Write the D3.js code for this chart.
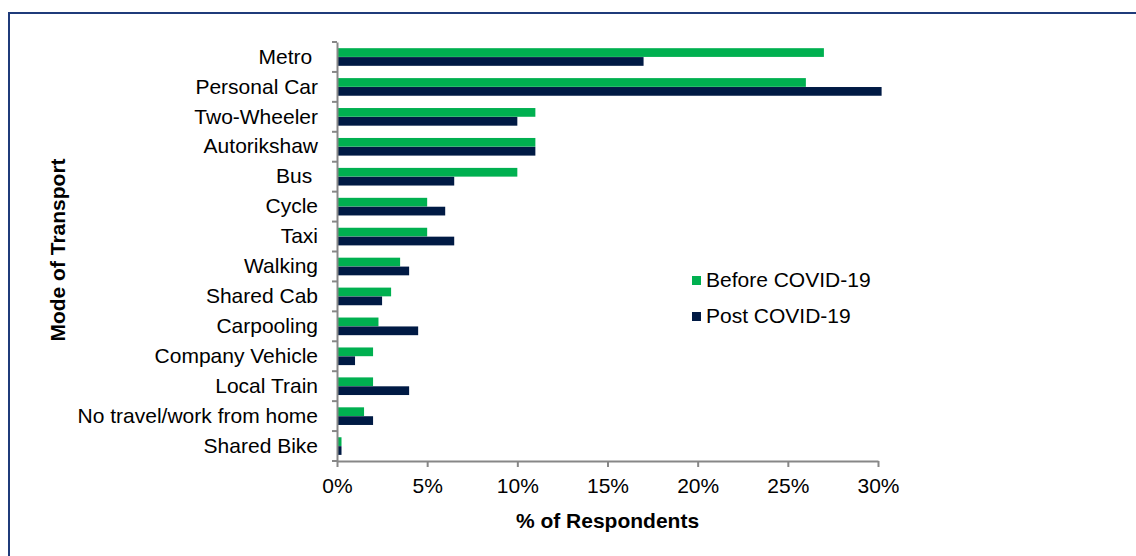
<!DOCTYPE html>
<html>
<head>
<meta charset="utf-8">
<script src="https://cdn.jsdelivr.net/npm/d3@7"></script>
<style>
  body { margin: 0; background: #fff; }
  svg { display: block; }
  text { font-family: "Liberation Sans", Arial, sans-serif; fill: #000; }
</style>
</head>
<body>
<svg class="Chart"></svg>
<script>
/* chart data */
const categories = ["Metro ", "Personal Car", "Two-Wheeler", "Autorikshaw", "Bus ", "Cycle", "Taxi",
  "Walking", "Shared Cab", "Carpooling", "Company Vehicle", "Local Train", "No travel/work from home", "Shared Bike"];
const beforeCovid = [27, 26, 11, 11, 10, 5, 5, 3.5, 3, 2.3, 2, 2, 1.5, 0.25];
const postCovid = [17, 30.2, 10, 11, 6.5, 6, 6.5, 4, 2.5, 4.5, 1, 4, 2, 0.25];
const seriesNames = ["Before COVID-19", "Post COVID-19"];
const seriesColors = ["#00b050", "#001a44"];
const xTicks = [0, 5, 10, 15, 20, 25, 30];

const width = 1136;
const height = 556;
const fontSize = '21px';
const svg = d3.select('.Chart')
  .attr('width', width)
  .attr('height', height);

// outer frame (only left and top visible in the picture)
svg.append('path')
  .attr('d', `M9,${height} V13 H${width}`)
  .attr('fill', 'none')
  .attr('stroke', '#1f3b7a')
  .attr('stroke-width', 2);

const plotLeft = 337, plotRight = 878, plotTop = 42, plotBottom = 461;

const x = d3.scaleLinear().domain([0, 30]).range([plotLeft, plotRight]);
const y = d3.scaleBand().domain(categories).range([plotTop, plotBottom]).paddingInner(0).paddingOuter(0);
const sub = d3.scaleBand().domain([0, 1]).range([6, 24]).padding(0.02);

const rows = categories.map((c, i) => ({ cat: c, vals: [beforeCovid[i], postCovid[i]] }));

const groups = svg.append('g')
  .selectAll('g')
  .data(rows)
  .enter().append('g')
  .attr('transform', d => `translate(0,${y(d.cat)})`);

groups.selectAll('rect')
  .data(d => d.vals.map((v, k) => ({ v, k })))
  .enter().append('rect')
  .attr('x', x(0))
  .attr('y', d => sub(d.k))
  .attr('width', d => x(d.v) - x(0))
  .attr('height', sub.bandwidth())
  .attr('fill', d => seriesColors[d.k]);

// y axis
const yAxis = svg.append('g')
  .attr('transform', `translate(${plotLeft},0)`)
  .call(d3.axisLeft(y).tickSize(0).tickPadding(19));
yAxis.select('.domain').attr('stroke', '#878787').attr('stroke-width', 2);
yAxis.selectAll('text')
  .style('font-size', fontSize)
  .style('white-space', 'pre')
  .attr('fill', '#000');

// y ticks between categories
svg.append('g')
  .selectAll('line')
  .data(categories.concat(['end']))
  .enter().append('line')
  .attr('x1', plotLeft - 5)
  .attr('x2', plotLeft)
  .attr('y1', (d, i) => plotTop + i * y.step())
  .attr('y2', (d, i) => plotTop + i * y.step())
  .attr('stroke', '#878787')
  .attr('stroke-width', 2);

// x axis
const xAxis = svg.append('g')
  .attr('transform', `translate(0,${plotBottom})`)
  .call(d3.axisBottom(x).tickValues(xTicks).tickSize(6).tickSizeOuter(0).tickPadding(11)
    .tickFormat(d => d + '%'));
xAxis.select('.domain').attr('stroke', '#878787').attr('stroke-width', 2);
xAxis.selectAll('.tick line').attr('stroke', '#878787').attr('stroke-width', 2);
xAxis.selectAll('text').style('font-size', fontSize).attr('fill', '#000');

// axis titles
svg.append('text')
  .attr('x', (plotLeft + plotRight) / 2)
  .attr('y', 528)
  .attr('text-anchor', 'middle')
  .style('font-size', fontSize)
  .style('font-weight', 'bold')
  .text('% of Respondents');

svg.append('text')
  .attr('transform', 'translate(65,250) rotate(-90)')
  .attr('text-anchor', 'middle')
  .style('font-size', fontSize)
  .style('font-weight', 'bold')
  .text('Mode of Transport');

// legend
const legend = svg.append('g')
  .selectAll('g')
  .data(seriesNames)
  .enter().append('g')
  .attr('transform', (d, i) => `translate(692,${276 + i * 36})`);

legend.append('rect')
  .attr('width', 9)
  .attr('height', 9)
  .attr('y', 0)
  .attr('fill', (d, i) => seriesColors[i]);

legend.append('text')
  .attr('x', 14)
  .attr('y', 11)
  .style('font-size', fontSize)
  .text(d => d);
</script>
</body>
</html>
